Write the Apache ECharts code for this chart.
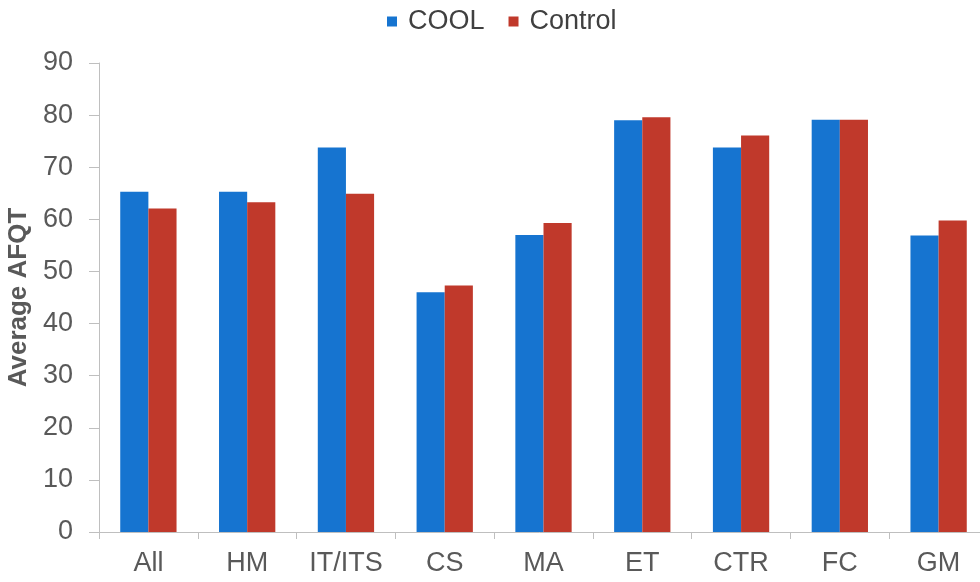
<!DOCTYPE html>
<html><head><meta charset="utf-8">
<script src="https://cdn.jsdelivr.net/npm/echarts@6/dist/echarts.min.js"></script>
<style>html,body{margin:0;padding:0;background:#fff}#c{width:980px;height:582px}</style>
</head><body><div id="c"></div>
<script>
const categories = ['All','HM','IT/ITS','CS','MA','ET','CTR','FC','GM'];
const coolValues = [65.3, 65.3, 73.8, 46.0, 57.0, 79.0, 73.8, 79.1, 56.9];
const controlValues = [62.1, 63.3, 64.9, 47.3, 59.3, 79.6, 76.1, 79.1, 59.8];
const yTicks = {min: 0, max: 90, interval: 10};

const font = '"Liberation Sans", Arial, sans-serif';
const chart = echarts.init(document.getElementById('c'));
chart.setOption({
  animation: false,
  textStyle: {fontFamily: font},
  legend: {
    top: 3, left: 382,
    itemWidth: 10, itemHeight: 10, itemGap: 24,
    icon: 'rect',
    textStyle: {fontSize: 27, color: '#404040', fontFamily: font, padding: [0, 0, 0, 6]}
  },
  grid: {left: 99, right: -8, top: 63, bottom: 50, containLabel: false, outerBoundsMode: 'none'},
  xAxis: {
    type: 'category', data: categories,
    axisLine: {lineStyle: {color: '#bfbfbf', width: 1}},
    axisTick: {show: true, length: 7, lineStyle: {color: '#bfbfbf'}},
    axisLabel: {fontSize: 27, color: '#595959', margin: 18, fontFamily: font}
  },
  yAxis: {
    type: 'value', min: yTicks.min, max: yTicks.max, interval: yTicks.interval,
    name: 'Average AFQT', nameLocation: 'middle', nameGap: 63,
    nameTextStyle: {fontSize: 26, fontWeight: 'bold', color: '#595959', fontFamily: font},
    axisLine: {show: true, lineStyle: {color: '#bfbfbf', width: 1}},
    axisTick: {show: true, length: 10, lineStyle: {color: '#bfbfbf'}},
    splitLine: {show: false},
    axisLabel: {fontSize: 27, color: '#595959', margin: 26, fontFamily: font}
  },
  series: [
    {name: 'COOL', type: 'bar', data: coolValues, barGap: '0%', barCategoryGap: '43%',
     itemStyle: {color: '#1674d0'}},
    {name: 'Control', type: 'bar', data: controlValues, barGap: '0%', barCategoryGap: '43%',
     itemStyle: {color: '#c0392b'}}
  ]
});
</script></body></html>
